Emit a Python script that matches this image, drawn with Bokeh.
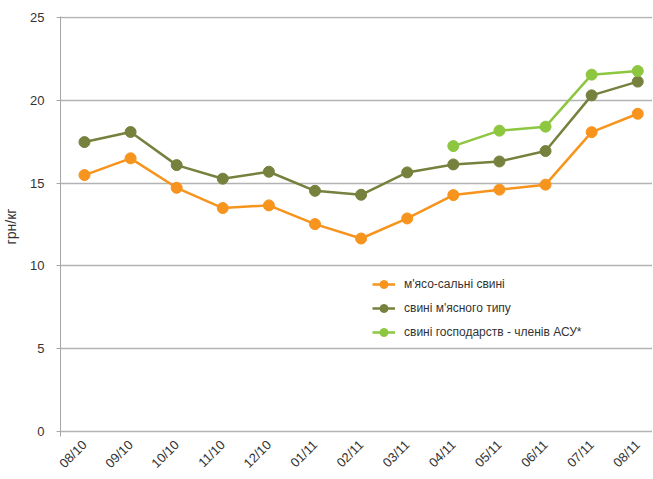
import math
import numpy as np
from bokeh.plotting import figure
from bokeh.models import FixedTicker, Range1d
from bokeh.embed import file_html
from bokeh.resources import INLINE

months = ["08/10", "09/10", "10/10", "11/10", "12/10", "01/11", "02/11",
          "03/11", "04/11", "05/11", "06/11", "07/11", "08/11"]
meat_fat = [15.48, 16.49, 14.71, 13.49, 13.65, 12.52, 11.65, 12.86, 14.27, 14.6, 14.9, 18.07, 19.18]
meat_type = [17.47, 18.08, 16.08, 15.26, 15.68, 14.53, 14.29, 15.64, 16.12, 16.3, 16.93, 20.29, 21.12]
asu_members = [None, None, None, None, None, None, None, None, 17.23, 18.16, 18.4, 21.54, 21.76]
y_ticks = [0, 5, 10, 15, 20, 25]
labels = ["м'ясо-сальні свині", "свині м'ясного типу", "свині господарств - членів АСУ*"]
colors = ["#f7941d", "#76813e", "#8dc63f"]

xs = list(range(len(months)))
FONT = "Liberation Sans"

p = figure(frame_width=592, frame_height=420, output_backend="svg", toolbar_location=None,
           x_range=Range1d(-0.52, 12.32), y_range=Range1d(-0.3, 25.05),
           min_border_left=53, min_border_right=0, min_border_top=16, min_border_bottom=0)
p.outline_line_color = None
p.background_fill_color = "white"
p.border_fill_color = "white"

series = [meat_fat, meat_type, asu_members]
for vals, lab, col in zip(series, labels, colors):
    ys = np.array([np.nan if v is None else v for v in vals], dtype=float)
    p.line(xs, ys, line_color=col, line_width=2.5, legend_label=lab)
    p.scatter(xs, ys, size=11, fill_color=col, line_color=col, legend_label=lab)

# axes
p.xaxis.ticker = FixedTicker(ticks=xs)
p.xaxis.major_label_overrides = {i: m for i, m in enumerate(months)}
p.xaxis.major_label_orientation = math.pi / 4
p.xaxis.axis_line_color = None
p.xaxis.major_tick_line_color = None
p.xaxis.minor_tick_line_color = None
p.xaxis.major_tick_out = 0
p.xaxis.major_tick_in = 0
p.xaxis.major_label_text_font = FONT
p.xaxis.major_label_text_font_size = "13px"
p.xaxis.major_label_text_color = "#333333"
p.xaxis.major_label_standoff = 6
p.xgrid.grid_line_color = None

p.yaxis.ticker = FixedTicker(ticks=y_ticks)
p.yaxis.axis_label = "грн/кг"
p.yaxis.axis_label_text_font = FONT
p.yaxis.axis_label_text_font_style = "normal"
p.yaxis.axis_label_text_font_size = "14px"
p.yaxis.axis_label_text_color = "#333333"
p.yaxis.axis_label_standoff = 8
p.yaxis.axis_line_color = "#a6a6a6"
p.yaxis.major_tick_line_color = "#a6a6a6"
p.yaxis.major_tick_out = 4
p.yaxis.major_tick_in = 0
p.yaxis.minor_tick_line_color = None
p.yaxis.major_label_text_font = FONT
p.yaxis.major_label_text_font_size = "13px"
p.yaxis.major_label_text_color = "#333333"
p.yaxis.major_label_standoff = 12
p.ygrid.grid_line_color = "#b3b3b3"
p.ygrid.grid_line_width = 1.3

leg = p.legend[0]
leg.location = (312, 94)
leg.border_line_color = None
leg.background_fill_alpha = 0
leg.padding = 0
leg.margin = 0
leg.spacing = 4
leg.glyph_width = 23
leg.glyph_height = 20
leg.label_height = 20
leg.label_standoff = 9
leg.label_text_font = FONT
leg.label_text_font_size = "12px"
leg.label_text_color = "#333333"

open("out.html", "w").write(file_html(p, INLINE))
